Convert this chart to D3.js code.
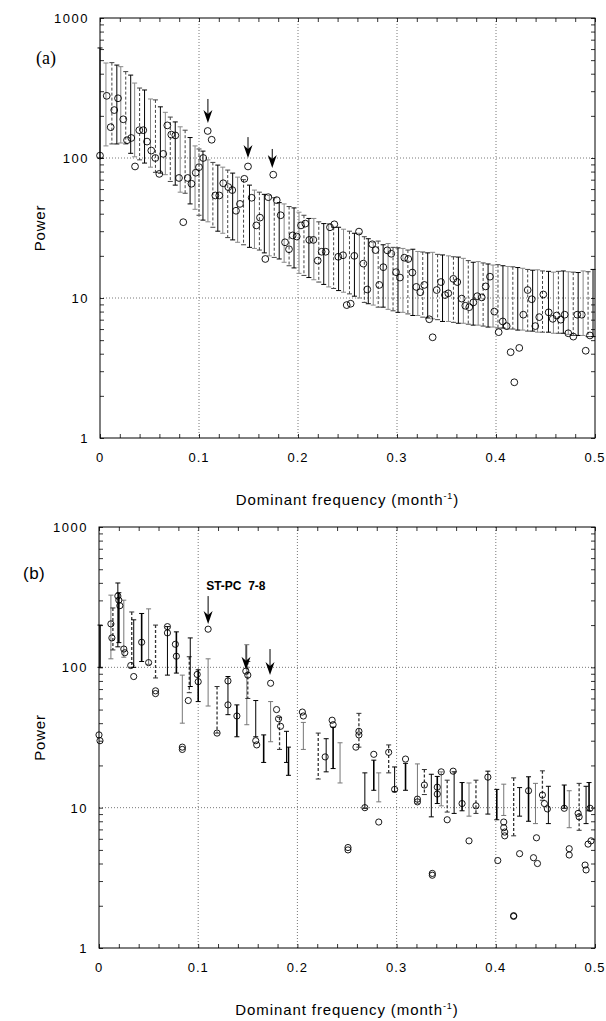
<!DOCTYPE html>
<html>
<head>
<meta charset="utf-8">
<script src="https://cdn.jsdelivr.net/npm/d3@7/dist/d3.min.js"></script>
<style>
  body { margin: 0; background: #fff; }
  text { font-family: "Liberation Sans", Arial, sans-serif; fill: #000; }
</style>
</head>
<body>
<svg id="chart" width="606" height="1021"></svg>
<script>
// ---------- panel (a): error bars (frequency, upper, lower) ----------
const barFreqA = [0, 0.006, 0.012, 0.017, 0.021, 0.026, 0.031, 0.035, 0.040, 0.045,
  0.051, 0.056, 0.061, 0.066, 0.071, 0.076, 0.081, 0.086, 0.091, 0.096,
  0.100, 0.104, 0.109, 0.114, 0.119, 0.124, 0.129, 0.134, 0.139, 0.145,
  0.151, 0.156, 0.161, 0.166, 0.171, 0.176, 0.181, 0.186, 0.191, 0.196,
  0.201, 0.206, 0.211, 0.216, 0.221, 0.226, 0.231, 0.236, 0.241, 0.246,
  0.252, 0.257, 0.262, 0.267, 0.271, 0.276, 0.281, 0.286, 0.291, 0.296,
  0.301, 0.306, 0.311, 0.316, 0.321, 0.326, 0.331, 0.336, 0.341, 0.346,
  0.352, 0.357, 0.362, 0.367, 0.372, 0.377, 0.382, 0.387, 0.392, 0.397,
  0.402, 0.407, 0.412, 0.417, 0.422, 0.427, 0.432, 0.437, 0.442, 0.447,
  0.453, 0.458, 0.463, 0.468, 0.473, 0.478, 0.483, 0.488, 0.493, 0.498];
const barUpperA = [611, 477, 480, 461, 449, 414, 391, 343, 316, 306,
  264, 260, 232, 212, 196, 181, 167, 158, 140, 122,
  116, 112, 97, 93, 89, 86, 82, 78, 73, 70,
  64, 59, 57, 55, 54, 52, 48, 47, 45, 44,
  41, 39, 37, 37, 35, 34, 34, 32, 32, 31,
  30, 29, 29, 27.4, 26.5, 25, 25.5, 24, 24.5, 23,
  22.8, 22.6, 22, 22.3, 21.5, 21.3, 21, 21.2, 20.5, 20.3,
  20, 19.7, 19.6, 19.2, 18.5, 18, 18.2, 17.8, 17.5, 17.2,
  17.3, 17, 16.8, 16.7, 16.5, 16.3, 16, 15.8, 15.9, 15.6,
  15.5, 15.3, 15.5, 15.6, 15.4, 15.3, 15.2, 15.6, 15.4, 16];
const barLowerA = [100, 122, 126, 126, 128, 126, 108, 102, 97, 92,
  86, 79, 78, 76, 68, 64, 57, 56, 47, 43,
  39, 36, 35, 32, 30, 29, 27, 26, 25, 24,
  23, 22.6, 22, 21, 20, 19.5, 19, 18, 17, 16.4,
  15, 14.5, 14, 13.5, 13, 12.5, 12, 11.7, 11.3, 11,
  10.7, 10.3, 10, 9.3, 9.1, 8.9, 8.6, 8.6, 8.3, 8.1,
  7.9, 7.9, 7.7, 7.5, 7.5, 7.3, 7.2, 7.1, 7, 6.8,
  6.8, 6.7, 6.6, 6.6, 6.5, 6.4, 6.4, 6.3, 6.2, 6.2,
  6.1, 6.1, 6, 6, 5.9, 5.9, 5.8, 5.8, 5.7, 5.7,
  5.7, 5.6, 5.6, 5.6, 5.5, 5.4, 5.4, 5.4, 5.3, 5.3];

// panel (a): data points
const pointFreqA = [0, 0.0068, 0.0108, 0.0144, 0.0182, 0.0235, 0.0273, 0.0316, 0.0354, 0.0397,
  0.0437, 0.0475, 0.0518, 0.0559, 0.0599, 0.0639, 0.068, 0.072, 0.0761, 0.0798,
  0.0841, 0.0886, 0.0924, 0.0967, 0.1, 0.1043, 0.1088, 0.1128, 0.1165, 0.1205,
  0.1245, 0.1296, 0.1336, 0.1374, 0.1414, 0.1458, 0.1495, 0.1532, 0.1579, 0.1616,
  0.167, 0.17, 0.175, 0.1785, 0.1825, 0.1869, 0.1909, 0.1946, 0.1987, 0.203,
  0.2074, 0.2114, 0.2155, 0.2199, 0.2239, 0.228, 0.2323, 0.2367, 0.2407, 0.2455,
  0.2492, 0.2532, 0.2569, 0.2616, 0.266, 0.27, 0.275, 0.2783, 0.2821, 0.2862,
  0.2902, 0.2942, 0.299, 0.303, 0.3074, 0.3114, 0.3155, 0.3195, 0.3235, 0.3276,
  0.3326, 0.336, 0.3401, 0.3444, 0.3485, 0.3518, 0.3569, 0.3609, 0.3654, 0.369,
  0.373, 0.3771, 0.3811, 0.3856, 0.3896, 0.3939, 0.3983, 0.4027, 0.4068, 0.4108,
  0.4148, 0.4185, 0.4235, 0.4276, 0.432, 0.4361, 0.4397, 0.4437, 0.4478, 0.4532,
  0.4573, 0.4613, 0.4654, 0.4694, 0.473, 0.4781, 0.4821, 0.4866, 0.4906, 0.4949];
const pointPowerA = [104, 278, 166, 220, 267, 189, 134, 139, 87, 158,
  158, 131, 113, 100, 77, 107, 171, 147, 145, 72,
  34.8, 72, 65.5, 78.5, 86, 100, 156, 135, 54, 54,
  66, 62, 59, 42, 47, 71, 87, 52, 33, 37.5,
  19, 52.5, 76, 50, 39, 25, 22.3, 28, 27.5, 33,
  34, 26, 26, 18.5, 21.4, 21.4, 32, 33.6, 19.7, 20.2,
  8.9, 9.1, 20, 29.8, 17.6, 11.5, 24.2, 22, 12.4, 16.6,
  21.9, 20.7, 15.3, 14, 19.4, 19, 15.2, 12, 11, 12.4,
  7.05, 5.24, 11.4, 13, 10.5, 10.8, 13.7, 13, 9.9, 8.8,
  8.6, 9.3, 10.3, 10.1, 12.1, 14.2, 8, 5.7, 6.8, 6.3,
  4.1, 2.5, 4.4, 7.6, 11.4, 9.8, 6.3, 7.3, 10.6, 7.9,
  7.1, 7.5, 7, 7.6, 5.6, 5.3, 7.6, 7.6, 4.2, 5.4];

// panel (a): arrows (frequency, tip power, tail power)
const arrowFreqA = [0.109, 0.1495, 0.174];
const arrowTipA = [178, 100, 85];
const arrowTailA = [264, 141, 116];

// ---------- panel (b) ----------
const barFreqB = [0.001, 0.012, 0.014, 0.019, 0.020, 0.025, 0.033, 0.035, 0.043, 0.050,
  0.057, 0.069, 0.078, 0.084, 0.091, 0.092, 0.100, 0.110, 0.119, 0.130,
  0.139, 0.149, 0.150, 0.158, 0.166, 0.173, 0.182, 0.189, 0.191, 0.206,
  0.221, 0.229, 0.236, 0.243, 0.262, 0.268, 0.277, 0.282, 0.292, 0.298,
  0.309, 0.321, 0.328, 0.335, 0.341, 0.345, 0.351, 0.358, 0.366, 0.373,
  0.380, 0.392, 0.401, 0.408, 0.418, 0.424, 0.433, 0.440, 0.447, 0.453,
  0.469, 0.474, 0.484, 0.491, 0.494];
const barUpperB = [200, 327, 265, 399, 340, 301, 248, 218, 242, 261,
  200, 195, 179, 88, 119, 162, 96, 115, 73, 86,
  54, 145, 110, 58, 33, 57, 44, 35, 27, 40.5,
  34, 31, 37.5, 29, 47, 17.7, 21.8, 17.7, 28, 19.5,
  20.7, 20.5, 18.7, 17.3, 16.7, 18, 15.7, 18, 15.1, 15,
  15.7, 18.2, 13.5, 14.7, 16.3, 13.9, 16.6, 14.9, 18.3, 14.2,
  14.5, 13.2, 14.9, 14.2, 15.1];
const barLowerB = [100, 115, 133, 140, 150, 118, 100, 100, 110, 105,
  84, 88, 91, 40, 66, 73, 57, 53, 34, 46,
  32, 39, 60, 32, 21, 29.5, 26, 21, 17, 26,
  16, 18, 19, 15, 27, 9.9, 13.3, 11, 17.7, 13,
  13.3, 10.7, 12.4, 8.6, 10.7, 10.3, 9.3, 9.1, 9.5, 8.7,
  9.1, 9, 8.2, 8.8, 6.3, 8.7, 8, 7.7, 11.3, 7.7,
  9.9, 7.2, 6.9, 7.7, 9.5];

const pointFreqB = [0.000, 0.001, 0.012, 0.013, 0.019, 0.020, 0.021, 0.025, 0.026, 0.032,
  0.035, 0.043, 0.050, 0.057, 0.057, 0.069, 0.069, 0.077, 0.078, 0.084,
  0.084, 0.090, 0.099, 0.100, 0.110, 0.119, 0.130, 0.130, 0.139, 0.148,
  0.150, 0.158, 0.159, 0.173, 0.179, 0.181, 0.183, 0.205, 0.206, 0.228,
  0.235, 0.236, 0.259, 0.262, 0.262, 0.268, 0.277, 0.282, 0.292, 0.298,
  0.309, 0.321, 0.321, 0.328, 0.341, 0.341, 0.345, 0.351, 0.357, 0.366,
  0.380, 0.392, 0.408, 0.408, 0.409, 0.409, 0.433, 0.441, 0.447, 0.449,
  0.452, 0.469, 0.483, 0.484, 0.495, 0.251, 0.251, 0.336, 0.336, 0.373,
  0.402, 0.424, 0.438, 0.442, 0.474, 0.474, 0.490, 0.491, 0.493, 0.496,
  0.418, 0.418];
const pointPowerB = [33, 30, 204, 162, 322, 301, 275, 135, 127, 103,
  86, 151, 108, 68, 65, 195, 176, 146, 120, 27,
  26, 58, 89, 79, 187, 34, 80, 54, 45, 94,
  88, 30, 28, 77, 50, 43, 38, 48, 45, 23,
  42, 39, 27, 35, 33, 10, 24, 7.9, 24.8, 13.5,
  22.2, 11.5, 11, 14.5, 14, 12.5, 18, 8.2, 18.2, 10.7,
  10.3, 16.5, 7.9, 7.2, 6.7, 6.3, 13.2, 6.1, 12.3, 10.7,
  9.8, 9.9, 9.1, 8.6, 9.9, 5.2, 5.0, 3.4, 3.3, 5.8,
  4.2, 4.7, 4.4, 4.0, 5.1, 4.6, 3.9, 3.6, 5.5, 5.8,
  1.7, 1.68];

const arrowFreqB = [0.110, 0.1482, 0.1724];
const arrowTipB = [204, 96, 88];
const arrowTailB = [322, 144, 135];

// shared axis labels
const xTickLabels = [0, 0.1, 0.2, 0.3, 0.4, 0.5];
const yTickLabels = [1, 10, 100, 1000];
const xGrid = [0.1, 0.2, 0.3, 0.4];
const yGrid = [10, 100];

const svg = d3.select("#chart");

function drawPanel(cfg) {
  const x = d3.scaleLinear().domain([0, 0.5]).range([cfg.left, cfg.right]);
  const y = d3.scaleLog().domain([1, 1000]).range([cfg.bottom, cfg.top]);
  const g = svg.append("g");

  // grid
  g.selectAll(".gx").data(xGrid).enter().append("line")
    .attr("x1", d => x(d)).attr("x2", d => x(d))
    .attr("y1", cfg.top).attr("y2", cfg.bottom)
    .attr("stroke", "#555").attr("stroke-width", 0.8).attr("stroke-dasharray", "1,2");
  g.selectAll(".gy").data(yGrid).enter().append("line")
    .attr("x1", cfg.left).attr("x2", cfg.right)
    .attr("y1", d => y(d)).attr("y2", d => y(d))
    .attr("stroke", "#555").attr("stroke-width", 0.8).attr("stroke-dasharray", "1,2");

  // inward ticks on all four sides
  const minorX = d3.range(0, 0.5001, 0.02);
  const logTicks = [];
  for (let dec = 1; dec < 1000; dec *= 10) for (let m = 1; m < 10; m++) logTicks.push(dec * m);
  logTicks.push(1000);
  g.append("g").attr("transform", `translate(0,${cfg.bottom})`)
    .call(d3.axisBottom(x).tickValues(minorX).tickSize(-4).tickFormat(""));
  g.append("g").attr("transform", `translate(0,${cfg.top})`)
    .call(d3.axisTop(x).tickValues(minorX).tickSize(-4).tickFormat(""));
  g.append("g").attr("transform", `translate(${cfg.left},0)`)
    .call(d3.axisLeft(y).tickValues(logTicks).tickSize(-4).tickFormat(""));
  g.append("g").attr("transform", `translate(${cfg.right},0)`)
    .call(d3.axisRight(y).tickValues(logTicks).tickSize(-4).tickFormat(""));
  g.selectAll(".domain").remove();
  g.selectAll(".tick line").attr("stroke", "#000").attr("stroke-width", 0.8);

  // frame
  g.append("rect").attr("x", cfg.left).attr("y", cfg.top)
    .attr("width", cfg.right - cfg.left).attr("height", cfg.bottom - cfg.top)
    .attr("fill", "none").attr("stroke", "#000").attr("stroke-width", 1);

  // error bars
  const bars = g.selectAll(".bar").data(cfg.barFreq.map((f, i) => ({ f, hi: cfg.barUpper[i], lo: cfg.barLower[i], i })))
    .enter().append("g");
  const col = d => cfg.barStyle(d.i).color;
  const dash = d => cfg.barStyle(d.i).dash;
  const wid = d => cfg.barStyle(d.i).width;
  bars.append("line")
    .attr("x1", d => x(d.f)).attr("x2", d => x(d.f))
    .attr("y1", d => y(d.hi)).attr("y2", d => y(d.lo))
    .attr("stroke", col).attr("stroke-width", wid).attr("stroke-dasharray", dash);
  [d => d.hi, d => d.lo].forEach(acc => {
    bars.append("line")
      .attr("x1", d => x(d.f) - 2.5).attr("x2", d => x(d.f) + 2.5)
      .attr("y1", d => y(acc(d))).attr("y2", d => y(acc(d)))
      .attr("stroke", col).attr("stroke-width", 1);
  });

  // points
  g.selectAll(".pt").data(cfg.pointFreq.map((f, i) => ({ f, p: cfg.pointPower[i] })))
    .enter().append("circle")
    .attr("cx", d => x(d.f)).attr("cy", d => y(d.p)).attr("r", cfg.r)
    .attr("fill", "none").attr("stroke", "#000").attr("stroke-width", 0.9);

  // arrows
  cfg.arrowFreq.forEach((f, i) => {
    const ax = x(f), tip = y(cfg.arrowTip[i]), tail = y(cfg.arrowTail[i]);
    g.append("line").attr("x1", ax).attr("x2", ax).attr("y1", tail).attr("y2", tip - 6)
      .attr("stroke", "#000").attr("stroke-width", 1);
    g.append("path")
      .attr("d", `M${ax},${tip} L${ax - 4.5},${tip - 13} L${ax},${tip - 9} L${ax + 4.5},${tip - 13} Z`)
      .attr("fill", "#000");
  });

  // tick labels
  g.selectAll(".xl").data(xTickLabels).enter().append("text")
    .attr("x", d => x(d)).attr("y", cfg.bottom + 24)
    .attr("text-anchor", "middle").attr("font-size", 13).attr("letter-spacing", 1)
    .text(d => d);
  g.selectAll(".yl").data(yTickLabels).enter().append("text")
    .attr("x", cfg.left - 11).attr("y", d => y(d) + 5)
    .attr("text-anchor", "end").attr("font-size", 13).attr("letter-spacing", 1.5)
    .text(d => d);

  // axis titles
  const xt = g.append("text").attr("x", (cfg.left + cfg.right) / 2).attr("y", cfg.bottom + 67)
    .attr("text-anchor", "middle").attr("font-size", 15).attr("letter-spacing", 0.9);
  xt.append("tspan").text("Dominant frequency (month");
  xt.append("tspan").attr("font-size", 9).attr("dy", -6).text("-1");
  xt.append("tspan").attr("dy", 6).text(")");
  g.append("text").attr("transform", `translate(45,${(cfg.top + cfg.bottom) / 2}) rotate(-90)`)
    .attr("text-anchor", "middle").attr("font-size", 15).attr("letter-spacing", 0.8).text("Power");
  return { x, y, g };
}

const pa = drawPanel({
  left: 100, right: 595, top: 18, bottom: 438, r: 3.4,
  barFreq: barFreqA, barUpper: barUpperA, barLower: barLowerA,
  barStyle: i => [{ color: "#000", dash: null, width: 1 }, { color: "#888", dash: null, width: 1 },
                  { color: "#444", dash: "3,2", width: 1 }][i % 3],
  pointFreq: pointFreqA, pointPower: pointPowerA,
  arrowFreq: arrowFreqA, arrowTip: arrowTipA, arrowTail: arrowTailA
});
pa.g.append("text").attr("x", 36).attr("y", 64)
  .style("font-family", "'Liberation Serif', 'Times New Roman', serif").attr("font-size", 18).text("(a)");

const pb = drawPanel({
  left: 99, right: 595, top: 527, bottom: 948, r: 3.1,
  barFreq: barFreqB, barUpper: barUpperB, barLower: barLowerB,
  barStyle: i => [{ color: "#000", dash: null, width: 1.6 }, { color: "#777", dash: null, width: 1 },
                  { color: "#333", dash: "3,2", width: 1.3 }, { color: "#000", dash: null, width: 1 }][i % 4],
  pointFreq: pointFreqB, pointPower: pointPowerB,
  arrowFreq: arrowFreqB, arrowTip: arrowTipB, arrowTail: arrowTailB
});
pb.g.append("text").attr("x", 23).attr("y", 579).attr("font-size", 17).attr("letter-spacing", 0.5).text("(b)");
pb.g.append("text").attr("x", pb.x(0.108)).attr("y", pb.y(356))
  .attr("font-size", 12).attr("font-weight", "bold").attr("xml:space", "preserve")
  .style("white-space", "pre").text("ST-PC  7-8");
</script>
</body>
</html>
